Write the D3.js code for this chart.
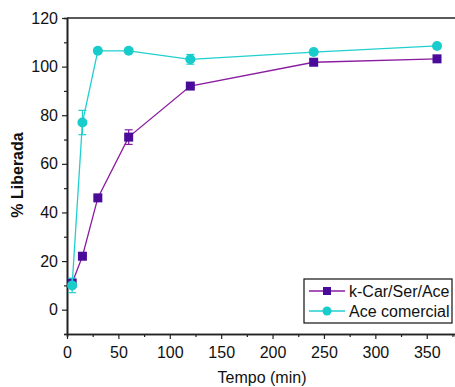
<!DOCTYPE html>
<html>
<head>
<meta charset="utf-8">
<script src="https://cdn.jsdelivr.net/npm/d3@7"></script>
<style>
    body { margin: 0; background: #fff; }
    svg { font-family: "Liberation Sans", Arial, sans-serif; }
</style>
</head>
<body>
<svg class="chart" width="455" height="387"></svg>
<script>
// data
const tempos = [5, 15, 30, 60, 120, 240, 360];
const carValues = [11, 22, 46, 71, 92, 101.8, 103.2];
const carErrors = [1.5, 0.8, 1, 3, 0.8, 0.5, 0.5];
const aceValues = [10, 77, 106.5, 106.5, 103, 106, 108.5];
const aceErrors = [3, 5, 0.5, 0.5, 2, 0.8, 0.8];
const seriesNames = ["k-Car/Ser/Ace", "Ace comercial"];
const xTicks = [0, 50, 100, 150, 200, 250, 300, 350];
const yTicks = [0, 20, 40, 60, 80, 100, 120];

const margin = { left: 67, top: 18, right: 0, bottom: 53 };
const width = 455, height = 387;

const svg = d3.select("svg.chart");

const x = d3.scaleLinear().domain([0, 377.5]).range([margin.left, width - margin.right]);
const y = d3.scaleLinear().domain([-10, 120]).range([height - margin.bottom, margin.top]);

function translate(a, b) {
    return `translate(${a}, ${b})`;
}

// axes
const xAxis = svg.append("g")
    .attr("transform", translate(0, y(-10)))
    .call(d3.axisBottom(x).tickValues(xTicks).tickSize(5).tickPadding(4).tickSizeOuter(0));
svg.append("g")
    .attr("transform", translate(0, y(-10)))
    .call(d3.axisBottom(x).tickValues(d3.range(25, 376, 50)).tickSize(3).tickFormat(""));

const yAxis = svg.append("g")
    .attr("transform", translate(x(0), 0))
    .call(d3.axisLeft(y).tickValues(yTicks).tickSize(5).tickPadding(4).tickSizeOuter(0));
svg.append("g")
    .attr("transform", translate(x(0), 0))
    .call(d3.axisLeft(y).tickValues(d3.range(-10, 120, 20)).tickSize(3).tickFormat(""));

svg.selectAll(".domain").attr("stroke", "#222").attr("stroke-width", 1.6);
svg.selectAll(".tick line").attr("stroke", "#222").attr("stroke-width", 1.2);
svg.selectAll(".tick text").attr("font-size", 16).attr("fill", "#111")
    .attr("font-family", "'Liberation Sans', Arial, sans-serif");
xAxis.selectAll(".tick text").attr("dy", "0.95em");

// top frame line
svg.append("line")
    .attr("x1", x(0)).attr("x2", width)
    .attr("y1", y(120)).attr("y2", y(120))
    .attr("stroke", "#222").attr("stroke-width", 1.6);

// axis titles
svg.append("text")
    .attr("x", 262).attr("y", 383)
    .attr("text-anchor", "middle")
    .attr("font-size", 16)
    .attr("fill", "#111")
    .text("Tempo (min)");

svg.append("text")
    .attr("transform", translate(23, 175) + " rotate(-90)")
    .attr("text-anchor", "middle")
    .attr("font-size", 16)
    .attr("font-weight", "bold")
    .attr("fill", "#111")
    .text("% Liberada");

// series
const series = [
    { name: seriesNames[0], values: carValues, errors: carErrors, line: "#8B1BA0", fill: "#4A0A9A", shape: "square" },
    { name: seriesNames[1], values: aceValues, errors: aceErrors, line: "#22CFCF", fill: "#18CCCC", shape: "circle" }
];

const line = d3.line()
    .x(d => x(d.t))
    .y(d => y(d.v));

series.forEach(s => {
    const pts = tempos.map((t, i) => ({ t: t, v: s.values[i], e: s.errors[i] }));
    const g = svg.append("g");

    g.append("path")
        .datum(pts)
        .attr("d", line)
        .attr("fill", "none")
        .attr("stroke", s.line)
        .attr("stroke-width", 1.3);

    // error bars
    const eb = g.selectAll("g.err").data(pts.filter(d => d.e > 1)).join("g").attr("class", "err");
    eb.append("line")
        .attr("x1", d => x(d.t)).attr("x2", d => x(d.t))
        .attr("y1", d => y(d.v - d.e)).attr("y2", d => y(d.v + d.e))
        .attr("stroke", s.line).attr("stroke-width", 1.2);
    eb.selectAll("line.cap")
        .data(d => [d.v - d.e, d.v + d.e].map(v => ({ t: d.t, v: v })))
        .join("line")
        .attr("class", "cap")
        .attr("x1", d => x(d.t) - 4).attr("x2", d => x(d.t) + 4)
        .attr("y1", d => y(d.v)).attr("y2", d => y(d.v))
        .attr("stroke", s.line).attr("stroke-width", 1.2);

    if (s.shape === "square") {
        g.selectAll("rect").data(pts).join("rect")
            .attr("x", d => x(d.t) - 4.5).attr("y", d => y(d.v) - 4.5)
            .attr("width", 9).attr("height", 9)
            .attr("fill", s.fill);
    } else {
        g.selectAll("circle").data(pts).join("circle")
            .attr("cx", d => x(d.t)).attr("cy", d => y(d.v))
            .attr("r", 5)
            .attr("fill", s.fill);
    }
});

// legend
const legend = svg.append("g").attr("transform", translate(304, 279));
legend.append("rect")
    .attr("width", 148).attr("height", 44)
    .attr("fill", "#fff").attr("stroke", "#111").attr("stroke-width", 1.2);

series.forEach((s, i) => {
    const ly = 12 + i * 20;
    legend.append("line")
        .attr("x1", 5).attr("x2", 41)
        .attr("y1", ly).attr("y2", ly)
        .attr("stroke", s.line).attr("stroke-width", 1.3);
    if (s.shape === "square") {
        legend.append("rect")
            .attr("x", 23 - 4).attr("y", ly - 4)
            .attr("width", 8).attr("height", 8)
            .attr("fill", s.fill);
    } else {
        legend.append("circle")
            .attr("cx", 23).attr("cy", ly).attr("r", 4.5)
            .attr("fill", s.fill);
    }
    legend.append("text")
        .attr("x", 45).attr("y", ly + 6)
        .attr("font-size", 16)
        .attr("fill", "#111")
        .text(s.name);
});
</script>
</body>
</html>
